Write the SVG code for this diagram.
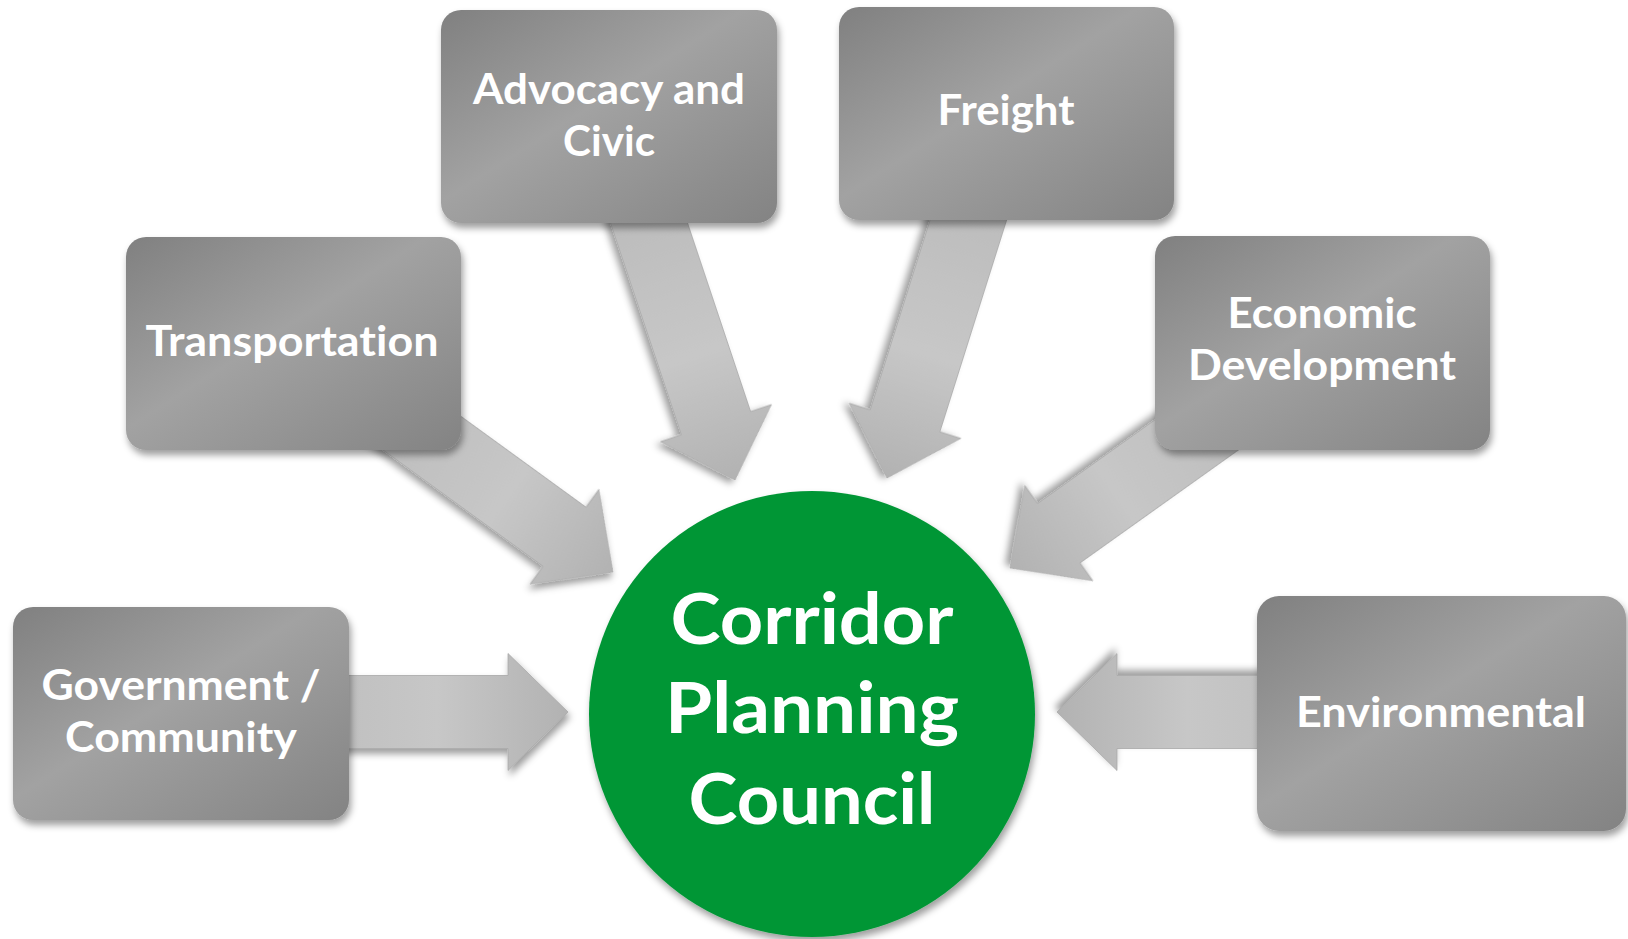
<svg xmlns="http://www.w3.org/2000/svg" xmlns:xlink="http://www.w3.org/1999/xlink" width="1628" height="939" viewBox="0 0 1628 939">
  <defs>
    <linearGradient id="boxGrad" x1="0" y1="0" x2="1" y2="1">
      <stop offset="0" stop-color="#808080"/>
      <stop offset="0.45" stop-color="#a2a2a2"/>
      <stop offset="1" stop-color="#838383"/>
    </linearGradient>
    <linearGradient id="arrowGrad" x1="0" y1="0" x2="1" y2="0">
      <stop offset="0" stop-color="#bcbcbc"/>
      <stop offset="0.55" stop-color="#c7c7c7"/>
      <stop offset="1" stop-color="#b2b2b2"/>
    </linearGradient>
    <filter id="shadow" x="-20%" y="-20%" width="140%" height="150%">
      <feDropShadow dx="2" dy="5" stdDeviation="3.5" flood-color="#000" flood-opacity="0.38"/>
    </filter>
    <polygon id="arrowShape" points="-290,-36.5 -60,-36.5 -60,-58.5 0,0 -60,58.5 -60,36.5 -290,36.5"/>
    <style>
      .box { fill: url(#boxGrad); filter: url(#shadow); }
      .arrow { fill: url(#arrowGrad); stroke: #a8a8a8; stroke-width: 0.8; filter: url(#shadow); }
      .lbl { font-family: Lato, "Open Sans", "Liberation Sans", sans-serif; font-weight: 700; fill: #ffffff; text-anchor: middle; font-size: 42px; font-variant-ligatures: none; }
      .big { font-family: Lato, "Open Sans", "Liberation Sans", sans-serif; font-weight: 700; fill: #ffffff; text-anchor: middle; font-size: 70px; font-variant-ligatures: none; }
    </style>
  </defs>
  <rect width="1628" height="939" fill="#ffffff"/>

  <g id="connectors">
    <use xlink:href="#arrowShape" class="arrow" transform="translate(568,712)"/>
    <use xlink:href="#arrowShape" class="arrow" transform="translate(1057,712) rotate(180)"/>
    <use xlink:href="#arrowShape" class="arrow" transform="translate(613,572) rotate(36)"/>
    <use xlink:href="#arrowShape" class="arrow" transform="translate(1010,568) rotate(144.5)"/>
    <use xlink:href="#arrowShape" class="arrow" transform="translate(735,480) rotate(71.5)"/>
    <use xlink:href="#arrowShape" class="arrow" transform="translate(887,478) rotate(107.5)"/>
  </g>

  <g id="node-advocacy">
    <rect class="box" x="441" y="10" width="336" height="213" rx="20"/>
    <text class="lbl" x="609" y="104" textLength="272" lengthAdjust="spacingAndGlyphs">Advocacy and</text>
    <text class="lbl" x="609" y="156" textLength="92" lengthAdjust="spacingAndGlyphs">Civic</text>
  </g>
  <g id="node-freight">
    <rect class="box" x="839" y="7" width="335" height="213" rx="20"/>
    <text class="lbl" x="1006" y="125" textLength="137" lengthAdjust="spacingAndGlyphs">Freight</text>
  </g>
  <g id="node-transportation">
    <rect class="box" x="126" y="237" width="335" height="213" rx="20"/>
    <text class="lbl" x="292" y="356" textLength="293" lengthAdjust="spacingAndGlyphs">Transportation</text>
  </g>
  <g id="node-economic">
    <rect class="box" x="1155" y="236" width="335" height="214" rx="20"/>
    <text class="lbl" x="1322" y="328" textLength="189" lengthAdjust="spacingAndGlyphs">Economic</text>
    <text class="lbl" x="1322" y="380" textLength="268" lengthAdjust="spacingAndGlyphs">Development</text>
  </g>
  <g id="node-government">
    <rect class="box" x="13" y="607" width="336" height="213" rx="20"/>
    <text class="lbl" x="181" y="700" textLength="279" lengthAdjust="spacingAndGlyphs">Government /</text>
    <text class="lbl" x="181" y="752" textLength="232" lengthAdjust="spacingAndGlyphs">Community</text>
  </g>
  <g id="node-environmental">
    <rect class="box" x="1257" y="596" width="369" height="235" rx="22"/>
    <text class="lbl" x="1441" y="727" textLength="290" lengthAdjust="spacingAndGlyphs">Environmental</text>
  </g>

  <g id="node-council">
    <circle cx="812" cy="714" r="223" fill="#009636" filter="url(#shadow)"/>
    <text class="big" x="812" y="644" textLength="283" lengthAdjust="spacingAndGlyphs">Corridor</text>
    <text class="big" x="812" y="733" textLength="294" lengthAdjust="spacingAndGlyphs">Planning</text>
    <text class="big" x="812" y="824" textLength="247" lengthAdjust="spacingAndGlyphs">Council</text>
  </g>
</svg>
